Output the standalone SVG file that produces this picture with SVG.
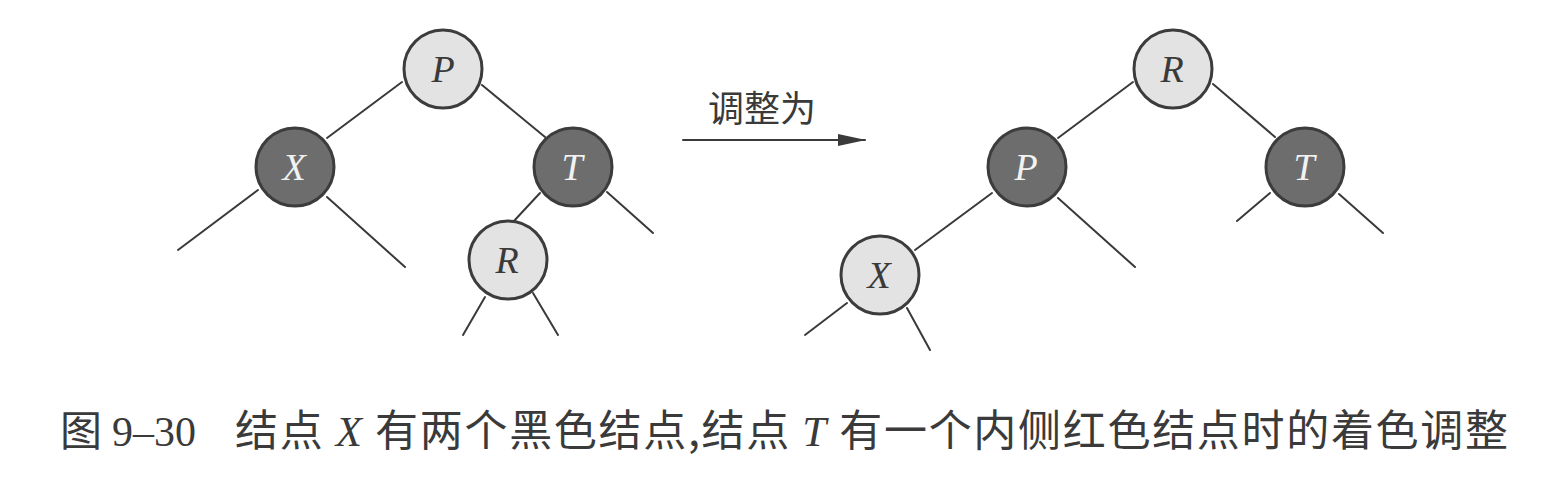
<svg xmlns="http://www.w3.org/2000/svg" width="1549" height="478" viewBox="0 0 1549 478">
<style>
.edge{stroke:#3a3a3a;stroke-width:2;fill:none;stroke-linecap:round}
.light circle{fill:#e3e3e3;stroke:#3c3c3c;stroke-width:3}
.dark circle{fill:#6d6d6d;stroke:#3c3c3c;stroke-width:3}
.lbl{font-family:"Liberation Serif","Times New Roman",serif;font-style:italic;font-size:38px;text-anchor:middle}
.light .lbl{fill:#3a3a3a}
.dark .lbl{fill:#f2f2f2}
.cjk{font-family:"Noto Sans CJK SC","Noto Sans",sans-serif;fill:#3a3a3a}
.serif{font-family:"Liberation Serif","Times New Roman",serif}
</style>
<defs>
<marker id="ah" viewBox="0 0 28 12" refX="27" refY="6" markerWidth="28" markerHeight="12" markerUnits="userSpaceOnUse" orient="auto">
<path d="M0,0 L28,6 L0,12 Z" fill="#3a3a3a"/>
</marker>
</defs>
<rect width="1549" height="478" fill="#ffffff"/>
<g id="connectors">
<line class="edge" x1="402" y1="82" x2="327" y2="138"/>
<line class="edge" x1="482" y1="85" x2="545" y2="137"/>
<line class="edge" x1="258" y1="190" x2="178" y2="250"/>
<line class="edge" x1="327" y1="197" x2="405" y2="267"/>
<line class="edge" x1="540" y1="193" x2="513" y2="222"/>
<line class="edge" x1="607" y1="192" x2="653" y2="233"/>
<line class="edge" x1="485" y1="297" x2="463" y2="335"/>
<line class="edge" x1="533" y1="293" x2="558" y2="335"/>
<line class="edge" x1="1133" y1="82" x2="1058" y2="138"/>
<line class="edge" x1="1213" y1="84" x2="1275" y2="137"/>
<line class="edge" x1="992" y1="193" x2="915" y2="250"/>
<line class="edge" x1="1058" y1="198" x2="1135" y2="267"/>
<line class="edge" x1="847" y1="303" x2="805" y2="335"/>
<line class="edge" x1="907" y1="308" x2="930" y2="350"/>
<line class="edge" x1="1270" y1="193" x2="1237" y2="221"/>
<line class="edge" x1="1339" y1="194" x2="1383" y2="233"/>
<line class="edge" x1="683" y1="140" x2="865" y2="140" marker-end="url(#ah)"/>
</g>
<text class="cjk" x="708" y="122" font-size="36">调整为</text>
<g id="L_P" class="light"><circle cx="443" cy="69" r="39"/><text class="lbl" x="443" y="82">P</text></g>
<g id="L_X" class="dark"><circle cx="295" cy="167" r="39"/><text class="lbl" x="294" y="180">X</text></g>
<g id="L_T" class="dark"><circle cx="573" cy="167" r="39"/><text class="lbl" x="572" y="180">T</text></g>
<g id="L_R" class="light"><circle cx="508" cy="260" r="39"/><text class="lbl" x="507" y="273">R</text></g>
<g id="R_R" class="light"><circle cx="1173" cy="69" r="39"/><text class="lbl" x="1172" y="82">R</text></g>
<g id="R_P" class="dark"><circle cx="1027" cy="167" r="39"/><text class="lbl" x="1026" y="180">P</text></g>
<g id="R_T" class="dark"><circle cx="1305" cy="167" r="39"/><text class="lbl" x="1304" y="180">T</text></g>
<g id="R_X" class="light"><circle cx="880" cy="275" r="39"/><text class="lbl" x="879" y="288">X</text></g>
<g id="caption">
<text class="cjk" x="60" y="446" font-size="42">图</text>
<text class="serif" x="112" y="446" font-size="42" fill="#3a3a3a">9–30</text>
<text class="cjk" x="235" y="446" font-size="43" textLength="1273" lengthAdjust="spacing">结点 <tspan class="serif" font-style="italic">X</tspan> 有两个黑色结点,结点 <tspan class="serif" font-style="italic">T</tspan> 有一个内侧红色结点时的着色调整</text>
</g>
</svg>
